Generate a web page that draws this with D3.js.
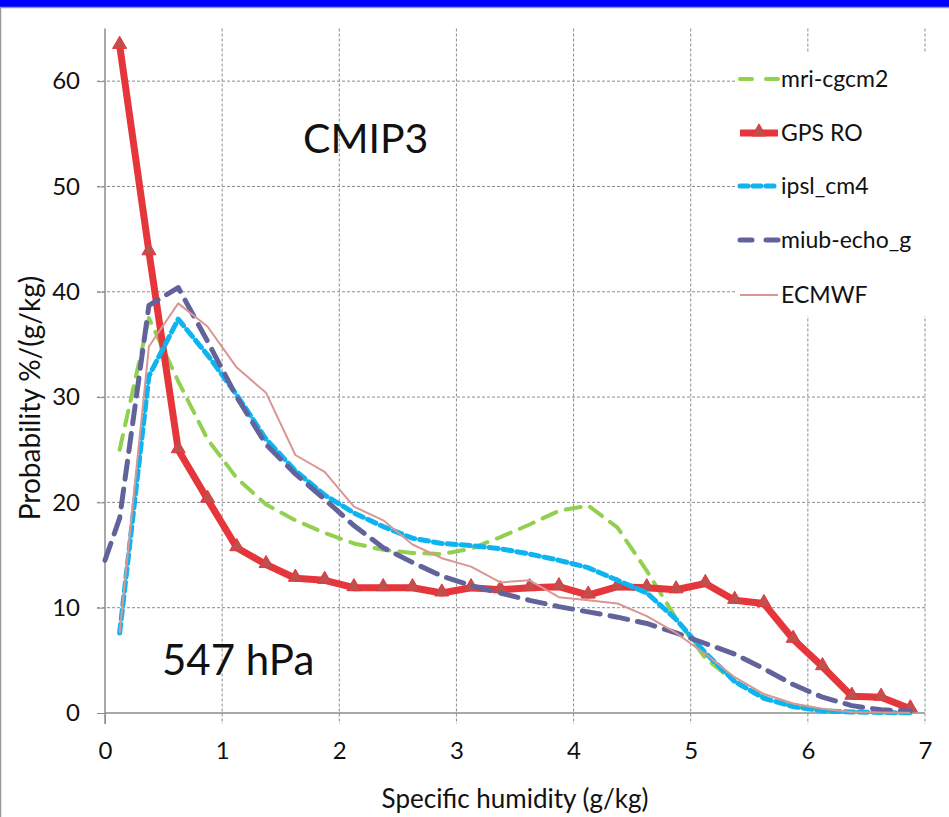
<!DOCTYPE html>
<html>
<head>
<meta charset="utf-8">
<script src="https://cdn.jsdelivr.net/npm/d3@7"></script>
<style>
  body { margin: 0; background: #fff; }
  svg text { font-family: Lato, "Open Sans", sans-serif; fill: #111; }
</style>
</head>
<body>
<svg id="chart" width="949" height="817"></svg>
<script>
// bin centres, g/kg
const xBins = [0.125, 0.375, 0.625, 0.875, 1.125, 1.375, 1.625, 1.875, 2.125, 2.375,
  2.625, 2.875, 3.125, 3.375, 3.625, 3.875, 4.125, 4.375, 4.625, 4.875,
  5.125, 5.375, 5.625, 5.875, 6.125, 6.375, 6.625, 6.875];
const miubX = [0, 0.125, 0.375, 0.625, 0.875, 1.125, 1.375, 1.625, 1.875, 2.125, 2.375,
  2.625, 2.875, 3.125, 3.375, 3.625, 3.875, 4.125, 4.375, 4.625, 4.875,
  5.125, 5.375, 5.625, 5.875, 6.125, 6.375, 6.625, 6.875];

const mriCgcm2 = [25, 37.5, 31.5, 26, 22.3, 19.8, 18.3, 17.1, 16.1, 15.5,
  15.2, 15.1, 15.6, 16.7, 17.9, 19.2, 19.7, 17.6, 13.5, 9.0,
  5.2, 3.0, 1.5, 0.6, 0.25, 0.1, 0.05, 0.02];
const gpsRO = [63.4, 43.8, 25, 20.3, 15.7, 14.1, 12.8, 12.6, 11.9, 11.9,
  11.9, 11.4, 11.9, 11.7, 11.9, 12.0, 11.2, 12.0, 11.9, 11.7,
  12.3, 10.7, 10.4, 7.0, 4.4, 1.6, 1.5, 0.4];
const ipslCm4 = [7.6, 32, 37.4, 34, 30.2, 26, 23, 20.7, 19.0, 17.7,
  16.6, 16.1, 15.9, 15.6, 15.1, 14.5, 13.8, 12.6, 11.4, 8.9,
  5.7, 3.0, 1.4, 0.6, 0.2, 0.1, 0.05, 0.02];
const miubEchoG = [14.5, 18.5, 38.7, 40.4, 35.3, 30, 25.5, 22.7, 20.3, 17.8, 15.7,
  14.3, 13.0, 12.1, 11.4, 10.7, 10.1, 9.6, 9.1, 8.5, 7.6,
  6.6, 5.6, 4.2, 2.7, 1.5, 0.7, 0.3, 0.2];
const ecmwf = [7.6, 34.8, 38.9, 36.7, 32.8, 30.4, 24.5, 22.9, 19.6, 18.3,
  16.0, 14.7, 13.9, 12.4, 12.6, 11.0, 10.7, 10.4, 9.2, 7.6,
  5.6, 3.4, 1.8, 0.9, 0.4, 0.1, 0.05, 0.02];

const xTicks = [0, 1, 2, 3, 4, 5, 6, 7];
const yTicks = [0, 10, 20, 30, 40, 50, 60];

const seriesNames = ["mri-cgcm2", "GPS RO", "ipsl_cm4", "miub-echo_g", "ECMWF"];
const seriesX = [xBins, xBins, xBins, miubX, xBins];
const seriesY = [mriCgcm2, gpsRO, ipslCm4, miubEchoG, ecmwf];
const seriesColors = ["#92d050", "#e5363b", "#0db4f0", "#63639c", "#d99694"];
const seriesWidths = [4, 7, 5, 5, 2];
const seriesDash = ["15,10", null, "9,5", "18,10", null];

const svg = d3.select("#chart");

// top blue band and frame
svg.append("rect").attr("x", 0).attr("y", 0).attr("width", 949).attr("height", 7).attr("fill", "#0000ff");
svg.append("rect").attr("x", 0.5).attr("y", 7.5).attr("width", 960).attr("height", 820)
  .attr("fill", "none").attr("stroke", "#999").attr("stroke-width", 1.5);

const x = d3.scaleLinear().domain([0, 7]).range([105, 925]);
const y = d3.scaleLinear().domain([0, 65]).range([713, 28.5]);

// grid
const grid = svg.append("g");
grid.selectAll("line.h").data(yTicks.filter(d => d > 0)).enter().append("line")
  .attr("x1", 97).attr("x2", x(7))
  .attr("y1", d => y(d)).attr("y2", d => y(d))
  .attr("stroke", "#8c8c8c").attr("stroke-width", 1).attr("stroke-dasharray", "3,2");
grid.selectAll("line.v").data(xTicks.filter(d => d > 0)).enter().append("line")
  .attr("x1", d => x(d)).attr("x2", d => x(d))
  .attr("y1", y(65)).attr("y2", 724)
  .attr("stroke", "#8c8c8c").attr("stroke-width", 1).attr("stroke-dasharray", "3,2");

// axes
const xAxis = svg.append("g").attr("transform", "translate(0," + y(0) + ")")
  .call(d3.axisBottom(x).tickValues(xTicks).tickFormat(d3.format("d")).tickSize(11).tickPadding(18));
const yAxis = svg.append("g").attr("transform", "translate(" + x(0) + ",0)")
  .call(d3.axisLeft(y).tickValues(yTicks).tickFormat(d3.format("d")).tickSize(8).tickPadding(17));
[xAxis, yAxis].forEach(a => {
  a.select(".domain").attr("stroke", "#8c8c8c").attr("stroke-width", 1.5);
  a.selectAll(".tick line").attr("stroke", "#8c8c8c");
  a.selectAll(".tick text").style("font-size", "24px").attr("fill", "#111");
});
xAxis.selectAll(".tick").filter(d => d > 0).select("line").remove();
xAxis.select(".domain").attr("d", "M" + x(0) + ",0H" + x(7));
yAxis.select(".domain").attr("d", "M0," + y(65) + "V" + (y(0) + 11));

// axis titles
svg.append("text").attr("x", 515).attr("y", 808).attr("text-anchor", "middle")
  .style("font-size", "26px").text("Specific humidity (g/kg)");
svg.append("text").attr("transform", "translate(40,398) rotate(-90)").attr("text-anchor", "middle")
  .style("font-size", "28px").text("Probability %/(g/kg)");

// series
const line = d3.line().x(d => x(d[0])).y(d => y(d[1]));
const plot = svg.append("g");
seriesNames.forEach((name, i) => {
  const pts = seriesX[i].map((v, j) => [v, seriesY[i][j]]);
  const p = plot.append("path").datum(pts)
    .attr("d", line)
    .attr("fill", "none")
    .attr("stroke", seriesColors[i])
    .attr("stroke-width", seriesWidths[i])
    .attr("stroke-linejoin", "round");
  if (seriesDash[i]) p.attr("stroke-dasharray", seriesDash[i]).attr("stroke-linecap", "round");
  if (name === "GPS RO") {
    plot.selectAll("path.tri").data(pts).enter().append("path")
      .attr("class", "tri")
      .attr("d", d3.symbol().type(d3.symbolTriangle).size(85))
      .attr("transform", d => "translate(" + x(d[0]) + "," + (y(d[1]) - 1) + ")")
      .attr("fill", "#c0504d").attr("stroke", "#e5363b").attr("stroke-width", 1);
  }
});

// legend
const legend = svg.append("g");
legend.append("rect").attr("x", 735).attr("y", 52).attr("width", 214).attr("height", 264).attr("fill", "#fff");
const legY = [79, 133, 186, 240, 295];
seriesNames.forEach((name, i) => {
  const g = legend.append("g").attr("transform", "translate(0," + legY[i] + ")");
  const l = g.append("line").attr("x1", 740).attr("x2", 778).attr("y1", 0).attr("y2", 0)
    .attr("stroke", seriesColors[i]).attr("stroke-width", seriesWidths[i]);
  if (seriesDash[i]) l.attr("stroke-dasharray", i === 2 ? "8,5" : "12,14").attr("stroke-linecap", "round");
  if (name === "GPS RO") {
    g.append("path").attr("d", d3.symbol().type(d3.symbolTriangle).size(85))
      .attr("transform", "translate(759,-1)")
      .attr("fill", "#c0504d").attr("stroke", "#e5363b");
  }
  g.append("text").attr("x", 781).attr("y", 0).attr("dy", "0.35em")
    .style("font-size", "23px").text(name);
});

// annotations
svg.append("text").attr("x", 303).attr("y", 153).style("font-size", "41px").text("CMIP3");
svg.append("text").attr("x", 162).attr("y", 675).style("font-size", "42px").text("547 hPa");
</script>
</body>
</html>
